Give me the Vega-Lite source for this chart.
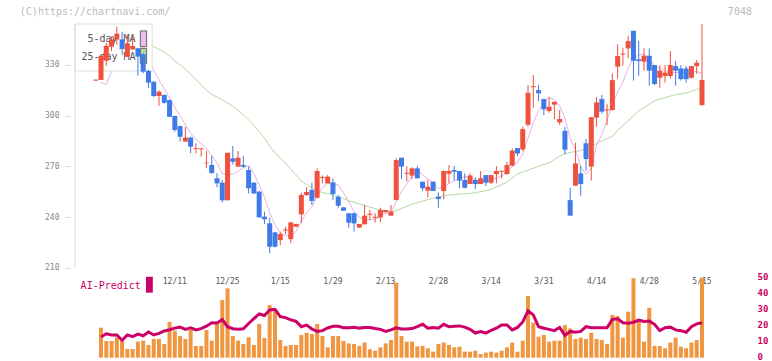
{
"$schema": "https://vega.github.io/schema/vega-lite/v6.json",
"width": 682, "height": 348,
"autosize": {"type": "none"},
"padding": {"left": 70, "top": 10, "right": 20, "bottom": 3},
"background": "white",
"config": {"view": {"stroke": null}, "font": "DejaVu Sans Mono"},
"datasets": {
"d": [
{"t":-1,"d":"11/20","o":320.7,"h":321.3,"l":320.7,"c":321.3},
{"t":0,"d":"11/21","o":321.1,"h":335.4,"l":321.1,"c":335.4,"v":18.9,"a":13,"m5":319.5},
{"t":1,"d":"11/22","o":332.5,"h":343,"l":329.5,"c":341.3,"v":10.5,"a":15,"m5":318.5},
{"t":2,"d":"11/25","o":340.8,"h":347,"l":338.2,"c":345.1,"v":10.5,"a":14.3,"m5":326},
{"t":3,"d":"11/26","o":345,"h":352.6,"l":342,"c":348.5,"v":12.8,"a":14.3,"m5":333},
{"t":4,"d":"11/27","o":345.1,"h":349.6,"l":336,"c":339.4,"v":10.5,"a":11,"m5":341.9},
{"t":5,"d":"11/28","o":334.9,"h":347.3,"l":334.9,"c":342.8,"v":5.5,"a":14.3,"m5":343.4,"m25":348},
{"t":6,"d":"11/29","o":339.2,"h":347,"l":339,"c":341.2,"v":5.5,"a":13.2,"m5":343.4,"m25":346.5},
{"t":7,"d":"12/2","o":339.8,"h":340,"l":323.5,"c":334.9,"v":10.1,"a":14.8,"m5":341.4,"m25":345},
{"t":8,"d":"12/3","o":336.3,"h":337,"l":325,"c":326,"v":10.7,"a":13.8,"m5":336.9,"m25":343.5},
{"t":9,"d":"12/4","o":326.4,"h":327,"l":316.2,"c":319.5,"v":8,"a":16.2,"m5":332.9,"m25":342},
{"t":10,"d":"12/5","o":320,"h":320.5,"l":311,"c":311.6,"v":11.8,"a":14.3,"m5":326.6,"m25":340.7},
{"t":11,"d":"12/6","o":311.6,"h":315,"l":305.7,"c":314.1,"v":11.8,"a":15.3,"m5":321.2,"m25":339.2},
{"t":12,"d":"12/9","o":312.2,"h":312.5,"l":307,"c":307.6,"v":8.6,"a":16.8,"m5":315.8,"m25":337.6},
{"t":13,"d":"12/10","o":309.2,"h":309.5,"l":299,"c":299.3,"v":22.5,"a":17.6,"m5":310.4,"m25":335.2},
{"t":14,"d":"12/11","o":299.8,"h":300,"l":290.5,"c":291.5,"v":17,"a":18.6,"m5":304.8,"m25":332.3},
{"t":15,"d":"12/12","o":293.8,"h":294,"l":284.6,"c":287.5,"v":13.6,"a":19.3,"m5":300,"m25":330},
{"t":16,"d":"12/13","o":284.6,"h":293.4,"l":284.6,"c":287,"v":11.8,"a":17.8,"m5":294.6,"m25":327.5},
{"t":17,"d":"12/16","o":287,"h":287.5,"l":277.7,"c":281.6,"v":17.4,"a":18.8,"m5":289.4,"m25":324.6},
{"t":18,"d":"12/17","o":280.3,"h":283.6,"l":277.7,"c":280.8,"v":7.4,"a":17.5,"m5":285.7,"m25":321.4},
{"t":19,"d":"12/18","o":280.1,"h":280.7,"l":275.7,"c":280.7,"v":7.4,"a":18.3,"m5":283.5,"m25":318.3},
{"t":20,"d":"12/19","o":271.8,"h":279,"l":268.8,"c":272.2,"v":17.4,"a":19.8,"m5":280.4,"m25":315},
{"t":21,"d":"12/20","o":270.8,"h":276,"l":265.9,"c":265.9,"v":10.7,"a":22,"m5":276.2,"m25":312.6},
{"t":22,"d":"12/23","o":262.9,"h":265.9,"l":257.6,"c":259.9,"v":21.2,"a":21.8,"m5":271.9,"m25":311},
{"t":23,"d":"12/24","o":260.3,"h":261.9,"l":248.7,"c":249.9,"v":36.3,"a":24,"m5":265.7,"m25":309.3},
{"t":24,"d":"12/25","o":249.9,"h":278,"l":249.9,"c":278,"v":43.6,"a":19.5,"m5":265.2,"m25":307.5},
{"t":25,"d":"12/26","o":274.7,"h":282,"l":271,"c":272.7,"v":13.6,"a":18.2,"m5":265.3,"m25":305.5},
{"t":26,"d":"12/27","o":269.8,"h":279,"l":269.8,"c":275.1,"v":10.7,"a":17.9,"m5":267.1,"m25":303.2},
{"t":27,"d":"12/30","o":270.8,"h":276,"l":269,"c":269.8,"v":8.6,"a":18.2,"m5":269.1,"m25":300.4},
{"t":28,"d":"1/6","o":267.8,"h":269.8,"l":254,"c":257,"v":12.8,"a":21.5,"m5":270.5,"m25":297.6},
{"t":29,"d":"1/7","o":260.3,"h":260.5,"l":253.5,"c":254,"v":8,"a":24.5,"m5":265.7,"m25":294.2},
{"t":30,"d":"1/8","o":255,"h":255.5,"l":239.5,"c":239.8,"v":21.2,"a":27.5,"m5":259.1,"m25":290.6},
{"t":31,"d":"1/9","o":240.2,"h":243.2,"l":235.7,"c":238.6,"v":12.4,"a":26.5,"m5":251.8,"m25":286.8},
{"t":32,"d":"1/10","o":236.3,"h":239.6,"l":218.5,"c":222.4,"v":33.1,"a":30,"m5":242.4,"m25":281.9},
{"t":33,"d":"1/14","o":230.9,"h":231.3,"l":222,"c":222.4,"v":30.4,"a":30.4,"m5":235.4,"m25":278},
{"t":34,"d":"1/15","o":226.4,"h":231.3,"l":223.4,"c":229.9,"v":11.1,"a":25.8,"m5":230.6,"m25":274.9},
{"t":35,"d":"1/16","o":232,"h":234.3,"l":229.9,"c":232.6,"v":7.4,"a":25.2,"m5":229.1,"m25":271.8},
{"t":36,"d":"1/17","o":226.9,"h":237,"l":224.4,"c":236.8,"v":8,"a":23.8,"m5":228.8,"m25":268.3},
{"t":37,"d":"1/20","o":234.3,"h":236,"l":234,"c":235.9,"v":8,"a":22.8,"m5":231.5,"m25":264.8},
{"t":38,"d":"1/21","o":241.6,"h":254.4,"l":236.6,"c":253,"v":14.3,"a":19.5,"m5":237.6,"m25":261.2},
{"t":39,"d":"1/22","o":253,"h":257.6,"l":252.5,"c":254.8,"v":15.7,"a":20.5,"m5":242.6,"m25":259.2},
{"t":40,"d":"1/23","o":256,"h":260.3,"l":247.1,"c":249.5,"v":14.9,"a":18,"m5":246,"m25":257.3},
{"t":41,"d":"1/24","o":251.4,"h":268.8,"l":251,"c":267.2,"v":21.2,"a":16.5,"m5":252.1,"m25":255.4},
{"t":42,"d":"1/27","o":263,"h":264.5,"l":260,"c":263.6,"v":13.6,"a":17,"m5":257.6,"m25":254.5},
{"t":43,"d":"1/28","o":259.9,"h":264.9,"l":259.9,"c":263.9,"v":6.5,"a":18.7,"m5":259.8,"m25":253.8},
{"t":44,"d":"1/29","o":260.5,"h":262.9,"l":250,"c":253.6,"v":13.6,"a":19.8,"m5":259.5,"m25":253.1},
{"t":45,"d":"1/30","o":252,"h":253,"l":245.5,"c":246.7,"v":13.6,"a":19.7,"m5":259,"m25":252},
{"t":46,"d":"1/31","o":245.7,"h":245.7,"l":243.7,"c":243.7,"v":10.5,"a":18.8,"m5":254.3,"m25":250.8},
{"t":47,"d":"2/3","o":242.2,"h":242.2,"l":233.7,"c":236.6,"v":9,"a":18.8,"m5":248.9,"m25":249.6},
{"t":48,"d":"2/4","o":242.2,"h":242.6,"l":231.3,"c":236.2,"v":8.6,"a":19.1,"m5":243.4,"m25":248.8},
{"t":49,"d":"2/5","o":233.7,"h":235.9,"l":233.7,"c":235.9,"v":7.4,"a":18.6,"m5":239.8,"m25":247.8},
{"t":50,"d":"2/6","o":235.7,"h":247.1,"l":235.7,"c":240.8,"v":9.5,"a":19,"m5":238.6,"m25":246.9},
{"t":51,"d":"2/7","o":241.3,"h":244.1,"l":238.2,"c":241.9,"v":5.3,"a":19,"m5":238.3,"m25":245.9},
{"t":52,"d":"2/10","o":239.5,"h":242.2,"l":236.6,"c":240.1,"v":4.4,"a":18.3,"m5":238.9,"m25":245},
{"t":53,"d":"2/12","o":239.8,"h":245.5,"l":236.8,"c":244.1,"v":6.5,"a":17.8,"m5":240.5,"m25":244.1},
{"t":54,"d":"2/13","o":242.8,"h":244.1,"l":242.8,"c":244.1,"v":9,"a":16.5,"m5":242.2,"m25":243.7},
{"t":55,"d":"2/14","o":240.8,"h":247.1,"l":240.8,"c":243.2,"v":11.1,"a":17.5,"m5":242.6,"m25":243.3},
{"t":56,"d":"2/17","o":250,"h":274.7,"l":250,"c":273.7,"v":47.3,"a":18.8,"m5":249,"m25":243.6},
{"t":57,"d":"2/18","o":275.1,"h":275.1,"l":262.3,"c":269.8,"v":13.6,"a":18,"m5":255,"m25":245},
{"t":58,"d":"2/19","o":265.6,"h":270,"l":261,"c":266.2,"v":10.1,"a":18,"m5":259.4,"m25":246.3},
{"t":59,"d":"2/20","o":264.5,"h":269.5,"l":262.5,"c":268.8,"v":10.1,"a":18.3,"m5":264.3,"m25":247.5},
{"t":60,"d":"2/21","o":268.8,"h":270.2,"l":262.7,"c":262.9,"v":7.1,"a":19.5,"m5":268.3,"m25":248.5},
{"t":61,"d":"2/25","o":260.9,"h":260.9,"l":255.4,"c":257,"v":7.4,"a":21,"m5":264.9,"m25":249.4},
{"t":62,"d":"2/26","o":255.6,"h":261.9,"l":251.5,"c":257.9,"v":5.9,"a":18.5,"m5":262.5,"m25":250.3},
{"t":63,"d":"2/27","o":260.9,"h":261,"l":255.4,"c":255.4,"v":3.8,"a":18.9,"m5":260.4,"m25":251.1},
{"t":64,"d":"2/28","o":252,"h":254.5,"l":245.5,"c":250.6,"v":8.6,"a":18.5,"m5":256.8,"m25":251.9},
{"t":65,"d":"3/3","o":255.4,"h":267.6,"l":250.4,"c":267.2,"v":9.5,"a":21,"m5":257.6,"m25":252.5},
{"t":66,"d":"3/4","o":265.6,"h":270.7,"l":259.9,"c":267.2,"v":8,"a":19.5,"m5":259.7,"m25":253},
{"t":67,"d":"3/5","o":267.8,"h":270.2,"l":261.5,"c":266.8,"v":6.5,"a":19.8,"m5":261.4,"m25":253.2},
{"t":68,"d":"3/6","o":267.2,"h":267.2,"l":256.9,"c":261.5,"v":6.9,"a":20,"m5":262.7,"m25":253.5},
{"t":69,"d":"3/7","o":261.9,"h":265.8,"l":256.9,"c":257.3,"v":3.8,"a":19.2,"m5":264,"m25":253.7},
{"t":70,"d":"3/10","o":259.5,"h":265.8,"l":259.5,"c":264.6,"v":3.8,"a":17.8,"m5":263.5,"m25":253.9},
{"t":71,"d":"3/11","o":261.9,"h":263.5,"l":256.5,"c":259.5,"v":4.4,"a":15.5,"m5":261.9,"m25":254.4},
{"t":72,"d":"3/12","o":259.5,"h":267.2,"l":259.5,"c":262.9,"v":2.3,"a":16.4,"m5":261.2,"m25":255},
{"t":73,"d":"3/13","o":264.8,"h":264.8,"l":258.3,"c":260.3,"v":3.2,"a":15.5,"m5":260.9,"m25":255.6},
{"t":74,"d":"3/14","o":260.3,"h":264.8,"l":259.5,"c":264.8,"v":3.8,"a":17.2,"m5":262.4,"m25":256.5},
{"t":75,"d":"3/17","o":265.4,"h":270.2,"l":259.9,"c":267.2,"v":3.2,"a":18.5,"m5":262.9,"m25":257.8},
{"t":76,"d":"3/18","o":266.8,"h":267.4,"l":262.9,"c":267.4,"v":4.4,"a":20.6,"m5":264.5,"m25":259.1},
{"t":77,"d":"3/19","o":265.4,"h":272.5,"l":265,"c":270.7,"v":6.5,"a":20.6,"m5":266.1,"m25":260.6},
{"t":78,"d":"3/21","o":270.4,"h":280.6,"l":270,"c":279.3,"v":9.5,"a":17.5,"m5":269.9,"m25":263},
{"t":79,"d":"3/24","o":280.8,"h":280.8,"l":276,"c":277.6,"v":3.8,"a":19,"m5":272.4,"m25":265.5},
{"t":80,"d":"3/25","o":280,"h":293.4,"l":279,"c":292,"v":10.7,"a":22.5,"m5":277.4,"m25":266.7},
{"t":81,"d":"3/26","o":294.6,"h":318.1,"l":293.4,"c":313.5,"v":38.8,"a":29.5,"m5":286.6,"m25":267.7},
{"t":82,"d":"3/27","o":316.8,"h":324,"l":304.7,"c":317.4,"v":22,"a":26.9,"m5":295.9,"m25":268.9},
{"t":83,"d":"3/28","o":315.1,"h":318.1,"l":308.6,"c":313.2,"v":13.2,"a":19.5,"m5":302.7,"m25":270},
{"t":84,"d":"3/31","o":309.8,"h":310,"l":300.3,"c":303.7,"v":14.3,"a":18.5,"m5":307.9,"m25":271.2},
{"t":85,"d":"4/1","o":302.7,"h":311.2,"l":301.7,"c":305.3,"v":10.1,"a":17.8,"m5":310.6,"m25":272},
{"t":86,"d":"4/2","o":306.5,"h":308.2,"l":297.8,"c":308.2,"v":10.7,"a":17,"m5":309.5,"m25":274},
{"t":87,"d":"4/3","o":296,"h":303.3,"l":294.6,"c":298,"v":10.7,"a":19,"m5":305.7,"m25":276},
{"t":88,"d":"4/4","o":291,"h":293.4,"l":277.1,"c":279.8,"v":20.5,"a":14,"m5":299,"m25":277.5},
{"t":89,"d":"4/7","o":250,"h":257.3,"l":240.8,"c":240.8,"v":18.4,"a":16.5,"m5":286.4,"m25":278.2},
{"t":90,"d":"4/8","o":258.5,"h":284,"l":258.5,"c":271.7,"v":11.8,"a":16,"m5":279.7,"m25":278.8},
{"t":91,"d":"4/9","o":265.8,"h":270.2,"l":252.6,"c":259.5,"v":12.6,"a":16.5,"m5":269.9,"m25":279.3},
{"t":92,"d":"4/10","o":283.6,"h":286.1,"l":267.4,"c":274.3,"v":11.8,"a":19.5,"m5":265.2,"m25":280.3},
{"t":93,"d":"4/11","o":269.8,"h":299,"l":261.5,"c":299,"v":15.7,"a":18.8,"m5":269.1,"m25":282},
{"t":94,"d":"4/14","o":298.8,"h":311,"l":293.4,"c":307.8,"v":11.8,"a":18.9,"m5":282.5,"m25":283.4},
{"t":95,"d":"4/15","o":309.8,"h":312.2,"l":301.3,"c":302.3,"v":11.1,"a":18.9,"m5":288.6,"m25":284.9},
{"t":96,"d":"4/16","o":303,"h":306.7,"l":294.4,"c":303.6,"v":8.6,"a":18.9,"m5":297.4,"m25":286.4},
{"t":97,"d":"4/17","o":303.3,"h":325,"l":303,"c":321,"v":26.9,"a":24.1,"m5":306.7,"m25":287.7},
{"t":98,"d":"4/18","o":329,"h":342.3,"l":322,"c":335.2,"v":26.2,"a":24.5,"m5":314,"m25":291.2},
{"t":99,"d":"4/21","o":336.1,"h":340.2,"l":329.6,"c":336.7,"v":12.6,"a":22,"m5":319.7,"m25":294},
{"t":100,"d":"4/22","o":339.8,"h":347.3,"l":333.9,"c":344.1,"v":28.9,"a":21.6,"m5":328.1,"m25":297},
{"t":101,"d":"4/23","o":350.2,"h":350.2,"l":320.7,"c":332.5,"v":50,"a":22.3,"m5":333.9,"m25":299.9},
{"t":102,"d":"4/24","o":333.3,"h":344.3,"l":323.6,"c":332.3,"v":23.1,"a":23.7,"m5":336.1,"m25":302.8},
{"t":103,"d":"4/25","o":331.9,"h":339.8,"l":326.6,"c":335.4,"v":10.1,"a":22.8,"m5":336.2,"m25":304.8},
{"t":104,"d":"4/28","o":335.4,"h":339.8,"l":317.7,"c":326.6,"v":31.4,"a":23,"m5":334.2,"m25":306.7},
{"t":105,"d":"4/30","o":329.9,"h":329.9,"l":318,"c":318.7,"v":7.4,"a":21,"m5":329.1,"m25":308.7},
{"t":106,"d":"5/1","o":322.4,"h":329.9,"l":316.5,"c":326.6,"v":7.4,"a":17,"m5":327.9,"m25":309.9},
{"t":107,"d":"5/2","o":323.4,"h":329.9,"l":319.5,"c":325.4,"v":5.9,"a":18.8,"m5":326.5,"m25":310.6},
{"t":108,"d":"5/7","o":323.4,"h":338.2,"l":322,"c":329.9,"v":9.5,"a":19.2,"m5":325.4,"m25":311.5},
{"t":109,"d":"5/8","o":329.3,"h":332.3,"l":317.7,"c":326.6,"v":12.6,"a":17.5,"m5":325.4,"m25":312.4},
{"t":110,"d":"5/9","o":327.9,"h":329.9,"l":320.7,"c":321.6,"v":6.9,"a":17,"m5":326,"m25":312.8},
{"t":111,"d":"5/12","o":327.9,"h":329.3,"l":319.5,"c":321.6,"v":5.9,"a":16,"m5":325,"m25":313.4},
{"t":112,"d":"5/13","o":322.4,"h":329.3,"l":322,"c":329.3,"v":9.5,"a":19.5,"m5":325.8,"m25":314.3},
{"t":113,"d":"5/14","o":329.3,"h":332.9,"l":324.6,"c":331.3,"v":11.1,"a":21.3,"m5":326.1,"m25":315.4},
{"t":114,"d":"5/15","o":306.3,"h":354.2,"l":305.7,"c":321.1,"v":50,"a":22,"m5":325,"m25":316.5}
],
"labels": [
{"t":14,"lab":"12/11"},{"t":24,"lab":"12/25"},{"t":34,"lab":"1/15"},{"t":44,"lab":"1/29"},{"t":54,"lab":"2/13"},{"t":64,"lab":"2/28"},{"t":74,"lab":"3/14"},{"t":84,"lab":"3/31"},{"t":94,"lab":"4/14"},{"t":104,"lab":"4/28"},{"t":114,"lab":"5/15"}
]
},
"data": {"name": "d"},
"layer": [
{"mark": {"type": "line", "color": "#b4d8a0", "strokeWidth": 1},
 "encoding": {"x": {"field": "t", "type": "quantitative", "scale": {"domain": [-4.935, 122.54], "nice": false, "zero": false},
   "axis": {"orient": "bottom", "offset": -90, "values": [6.655, 18.244, 29.833, 41.422, 53.011, 64.6, 76.189, 87.778, 99.367, 110.956, 122.54], "labels": false, "grid": false, "domainColor": "#dddddd", "tickColor": "#dddddd", "tickSize": -3, "title": null}},
  "y": {"field": "m25", "type": "quantitative", "scale": {"domain": [156.57, 362.49], "nice": false, "zero": false},
   "axis": {"orient": "left", "values": [210, 240, 270, 300, 330], "domain": false, "grid": false, "ticks": true, "tickSize": 6, "tickColor": "#dddddd", "labelColor": "#888888", "labelFontSize": 8, "labelFont": "DejaVu Sans Mono", "labelPadding": 5, "title": null}}}},
{"mark": {"type": "line", "color": "#e8b0e8", "strokeWidth": 1},
 "encoding": {"x": {"field": "t", "type": "quantitative", "axis": null},
  "y": {"field": "m5", "type": "quantitative", "scale": {"domain": [156.57, 362.49], "nice": false, "zero": false}, "axis": null}}},
{"data": {"values": [{}]},
 "mark": {"type": "rect", "fill": "white", "stroke": "#dddddd", "strokeWidth": 1},
 "encoding": {"x": {"datum": -4.935, "type": "quantitative", "axis": null},
  "x2": {"datum": 9.7},
  "y": {"datum": 354.2, "type": "quantitative", "scale": {"domain": [156.57, 362.49], "nice": false, "zero": false}, "axis": null},
  "y2": {"datum": 326.4}}},
{"data": {"values": [{}]},
 "mark": {"type": "text", "text": "5-day MA", "align": "right", "baseline": "middle", "fontSize": 10, "font": "DejaVu Sans Mono", "color": "#555555"},
 "encoding": {"x": {"datum": 6.56, "type": "quantitative", "axis": null},
  "y": {"datum": 345.1, "type": "quantitative", "scale": {"domain": [156.57, 362.49], "nice": false, "zero": false}, "axis": null}}},
{"data": {"values": [{}]},
 "mark": {"type": "text", "text": "25-day MA", "align": "right", "baseline": "middle", "fontSize": 10, "font": "DejaVu Sans Mono", "color": "#555555"},
 "encoding": {"x": {"datum": 6.56, "type": "quantitative", "axis": null},
  "y": {"datum": 334.5, "type": "quantitative", "scale": {"domain": [156.57, 362.49], "nice": false, "zero": false}, "axis": null}}},
{"data": {"values": [{}]},
 "mark": {"type": "rect", "fill": "#ecbcec", "stroke": "#666666", "strokeWidth": 1},
 "encoding": {"x": {"datum": 7.46, "type": "quantitative", "axis": null},
  "x2": {"datum": 8.65},
  "y": {"datum": 350.1, "type": "quantitative", "scale": {"domain": [156.57, 362.49], "nice": false, "zero": false}, "axis": null},
  "y2": {"datum": 340.8}}},
{"data": {"values": [{}]},
 "mark": {"type": "rect", "fill": "#b4d8a0", "stroke": "#666666", "strokeWidth": 1},
 "encoding": {"x": {"datum": 7.46, "type": "quantitative", "axis": null},
  "x2": {"datum": 8.65},
  "y": {"datum": 339.8, "type": "quantitative", "scale": {"domain": [156.57, 362.49], "nice": false, "zero": false}, "axis": null},
  "y2": {"datum": 330.9}}},
{"mark": {"type": "rule", "strokeWidth": 1},
 "encoding": {"x": {"field": "t", "type": "quantitative", "axis": null},
  "y": {"field": "l", "type": "quantitative", "scale": {"domain": [156.57, 362.49], "nice": false, "zero": false}, "axis": null},
  "y2": {"field": "h"},
  "color": {"condition": {"test": "datum.c >= datum.o", "value": "#f0503c"}, "value": "#3f7be8"}}},
{"mark": {"type": "bar", "width": 5},
 "encoding": {"x": {"field": "t", "type": "quantitative", "axis": null},
  "y": {"field": "o", "type": "quantitative", "scale": {"domain": [156.57, 362.49], "nice": false, "zero": false}, "axis": null},
  "y2": {"field": "c"},
  "color": {"condition": {"test": "datum.c >= datum.o", "value": "#f0503c"}, "value": "#3f7be8"}}},
{"data": {"values": [{}]},
 "mark": {"type": "rule", "color": "#dddddd", "strokeWidth": 1},
 "encoding": {"x": {"datum": -4.935, "type": "quantitative", "axis": null},
  "y": {"datum": 210, "type": "quantitative", "scale": {"domain": [156.57, 362.49], "nice": false, "zero": false}, "axis": null},
  "y2": {"datum": 354.2}}},
{"data": {"values": [{}]},
 "mark": {"type": "text", "text": "(C)https://chartnavi.com/", "align": "left", "baseline": "middle", "fontSize": 10, "font": "DejaVu Sans Mono", "color": "#bbbbbb"},
 "encoding": {"x": {"datum": -15.4, "type": "quantitative", "axis": null},
  "y": {"datum": 361.3, "type": "quantitative", "scale": {"domain": [156.57, 362.49], "nice": false, "zero": false}, "axis": null}}},
{"data": {"values": [{}]},
 "mark": {"type": "text", "text": "7048", "align": "right", "baseline": "middle", "fontSize": 10, "font": "DejaVu Sans Mono", "color": "#bbbbbb"},
 "encoding": {"x": {"datum": 123.48, "type": "quantitative", "axis": null},
  "y": {"datum": 361.3, "type": "quantitative", "scale": {"domain": [156.57, 362.49], "nice": false, "zero": false}, "axis": null}}},
{"data": {"name": "labels"},
 "mark": {"type": "text", "align": "center", "baseline": "middle", "fontSize": 8, "font": "DejaVu Sans Mono", "color": "#555555"},
 "encoding": {"x": {"field": "t", "type": "quantitative", "axis": null},
  "y": {"datum": 47.8, "type": "quantitative", "scale": {"domain": [-0.2, 218.7], "nice": false, "zero": false}, "axis": null},
  "text": {"field": "lab"}}},
{"mark": {"type": "bar", "width": 4, "color": "#f09640"},
 "encoding": {"x": {"field": "t", "type": "quantitative", "axis": null},
  "y": {"field": "v", "type": "quantitative", "scale": {"domain": [-0.2, 218.7], "nice": false, "zero": false},
   "axis": {"orient": "right", "values": [0, 10, 20, 30, 40, 50], "domain": false, "ticks": false, "grid": false, "labelColor": "#cc0066", "labelFontSize": 9, "labelFontWeight": "bold", "labelFont": "DejaVu Sans Mono", "labelPadding": 5, "labelOffset": -1.5, "title": null}},
  "y2": {"datum": 0}}},
{"mark": {"type": "line", "color": "#cc0066", "strokeWidth": 3},
 "encoding": {"x": {"field": "t", "type": "quantitative", "axis": null},
  "y": {"field": "a", "type": "quantitative", "scale": {"domain": [-0.2, 218.7], "nice": false, "zero": false}, "axis": null}}},
{"data": {"values": [{}]},
 "mark": {"type": "text", "text": "AI-Predict", "align": "left", "baseline": "middle", "fontSize": 10, "font": "DejaVu Sans Mono", "color": "#cc0066"},
 "encoding": {"x": {"datum": -3.87, "type": "quantitative", "axis": null},
  "y": {"datum": 45.1, "type": "quantitative", "scale": {"domain": [-0.2, 218.7], "nice": false, "zero": false}, "axis": null}}},
{"data": {"values": [{}]},
 "mark": {"type": "rect", "fill": "#cc0066"},
 "encoding": {"x": {"datum": 8.52, "type": "quantitative", "axis": null},
  "x2": {"datum": 9.83},
  "y": {"datum": 50.9, "type": "quantitative", "scale": {"domain": [-0.2, 218.7], "nice": false, "zero": false}, "axis": null},
  "y2": {"datum": 40.9}}}
],
"resolve": {"scale": {"y": "independent"}}
}
